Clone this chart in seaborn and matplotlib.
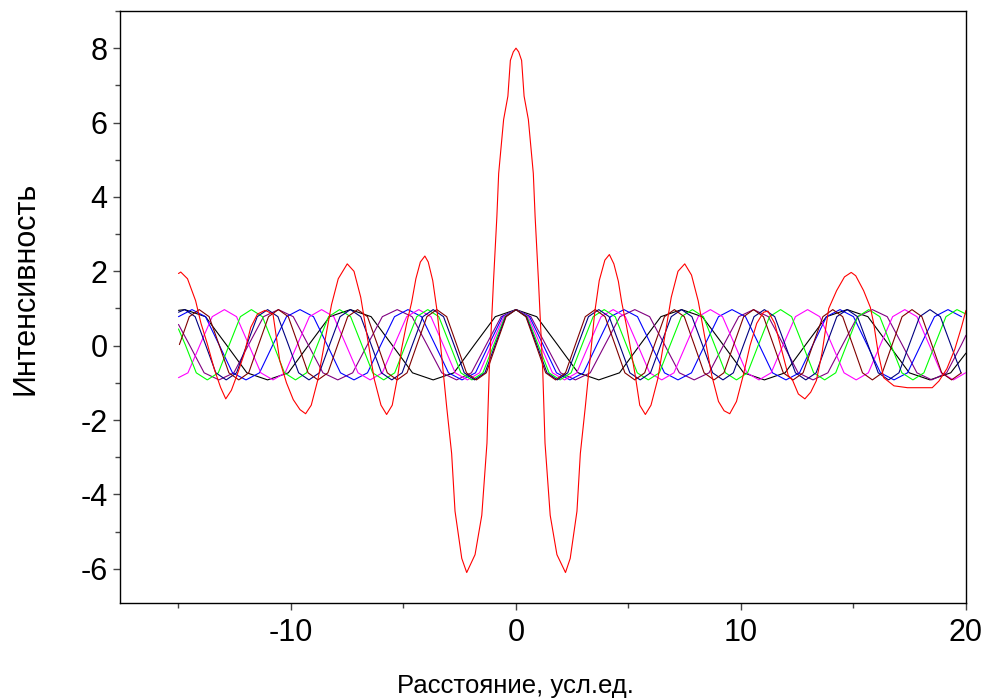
import matplotlib
matplotlib.use("Agg")
import matplotlib.pyplot as plt
import seaborn as sns
from matplotlib.ticker import MultipleLocator

# ---- component curves (x, intensity) ----
brown_x = [-14.96, -14.52, -14.08, -13.64, -13.20, -12.76, -12.32, -11.88,
           -11.44, -11.00, -10.56, -10.12, -9.68, -9.24, -8.80, -8.36,
           -7.92, -7.48, -7.04, -6.60, -6.16, -5.72, -5.28, -4.84,
           -4.40, -3.96, -3.52, -3.08, -2.64, -2.20, -1.76, -1.32,
           -0.88, -0.44, 0.00, 0.44, 0.88, 1.32, 1.76, 2.20,
           2.64, 3.08, 3.52, 3.96, 4.40, 4.84, 5.28, 5.72,
           6.16, 6.60, 7.04, 7.48, 7.92, 8.36, 8.80, 9.24,
           9.68, 10.12, 10.56, 11.00, 11.44, 11.88, 12.32, 12.76,
           13.20, 13.64, 14.08, 14.52, 14.96, 15.40, 15.84, 16.28,
           16.72, 17.16, 17.60, 18.04, 18.48, 18.92, 19.36, 19.80]
brown_y = [0.03, 0.78, 0.97, 0.78, 0.03, -0.73, -0.92, -0.73,
           0.03, 0.78, 0.97, 0.78, 0.03, -0.73, -0.92, -0.73,
           0.03, 0.78, 0.97, 0.78, 0.03, -0.73, -0.92, -0.73,
           0.03, 0.78, 0.97, 0.78, 0.03, -0.73, -0.92, -0.73,
           0.03, 0.78, 0.97, 0.78, 0.03, -0.73, -0.92, -0.73,
           0.03, 0.78, 0.97, 0.78, 0.03, -0.73, -0.92, -0.73,
           0.03, 0.78, 0.97, 0.78, 0.03, -0.73, -0.92, -0.73,
           0.03, 0.78, 0.97, 0.78, 0.03, -0.73, -0.92, -0.73,
           0.03, 0.78, 0.97, 0.78, 0.03, -0.73, -0.92, -0.73,
           0.03, 0.78, 0.97, 0.78, 0.03, -0.73, -0.92, -0.73]

navy_x = [-15.00, -14.72, -14.26, -13.80, -13.34, -12.88, -12.42, -11.96,
          -11.50, -11.04, -10.58, -10.12, -9.66, -9.20, -8.74, -8.28,
          -7.82, -7.36, -6.90, -6.44, -5.98, -5.52, -5.06, -4.60,
          -4.14, -3.68, -3.22, -2.76, -2.30, -1.84, -1.38, -0.92,
          -0.46, 0.00, 0.46, 0.92, 1.38, 1.84, 2.30, 2.76,
          3.22, 3.68, 4.14, 4.60, 5.06, 5.52, 5.98, 6.44,
          6.90, 7.36, 7.82, 8.28, 8.74, 9.20, 9.66, 10.12,
          10.58, 11.04, 11.50, 11.96, 12.42, 12.88, 13.34, 13.80,
          14.26, 14.72, 15.18, 15.64, 16.10, 16.56, 17.02, 17.48,
          17.94, 18.40, 18.86, 19.32, 19.78]
navy_y = [0.90,
          0.97, 0.78, 0.03, -0.73, -0.92, -0.73, 0.03, 0.78,
          0.97, 0.78, 0.03, -0.73, -0.92, -0.73, 0.03, 0.78,
          0.97, 0.78, 0.03, -0.73, -0.92, -0.73, 0.03, 0.78,
          0.97, 0.78, 0.03, -0.73, -0.92, -0.73, 0.03, 0.78,
          0.97, 0.78, 0.03, -0.73, -0.92, -0.73, 0.03, 0.78,
          0.97, 0.78, 0.03, -0.73, -0.92, -0.73, 0.03, 0.78,
          0.97, 0.78, 0.03, -0.73, -0.92, -0.73, 0.03, 0.78,
          0.97, 0.78, 0.03, -0.73, -0.92, -0.73, 0.03, 0.78,
          0.97, 0.78, 0.03, -0.73, -0.92, -0.73, 0.03, 0.78,
          0.97, 0.78, 0.03, -0.73]

green_x = [-15.00, -14.70, -14.21, -13.72, -13.23, -12.74, -12.25, -11.76,
           -11.27, -10.78, -10.29, -9.80, -9.31, -8.82, -8.33, -7.84,
           -7.35, -6.86, -6.37, -5.88, -5.39, -4.90, -4.41, -3.92,
           -3.43, -2.94, -2.45, -1.96, -1.47, -0.98, -0.49, 0.00,
           0.49, 0.98, 1.47, 1.96, 2.45, 2.94, 3.43, 3.92,
           4.41, 4.90, 5.39, 5.88, 6.37, 6.86, 7.35, 7.84,
           8.33, 8.82, 9.31, 9.80, 10.29, 10.78, 11.27, 11.76,
           12.25, 12.74, 13.23, 13.72, 14.21, 14.70, 15.19, 15.68,
           16.17, 16.66, 17.15, 17.64, 18.13, 18.62, 19.11, 19.60, 20.00]
green_y = [0.45,
           0.03, -0.73, -0.92, -0.73, 0.03, 0.78, 0.97, 0.78,
           0.03, -0.73, -0.92, -0.73, 0.03, 0.78, 0.97, 0.78,
           0.03, -0.73, -0.92, -0.73, 0.03, 0.78, 0.97, 0.78,
           0.03, -0.73, -0.92, -0.73, 0.03, 0.78, 0.97, 0.78,
           0.03, -0.73, -0.92, -0.73, 0.03, 0.78, 0.97, 0.78,
           0.03, -0.73, -0.92, -0.73, 0.03, 0.78, 0.97, 0.78,
           0.03, -0.73, -0.92, -0.73, 0.03, 0.78, 0.97, 0.78,
           0.03, -0.73, -0.92, -0.73, 0.03, 0.78, 0.97, 0.78,
           0.03, -0.73, -0.92, -0.73, 0.03, 0.78, 0.97,
           0.85]

magenta_x = [-15.00, -14.58, -14.04, -13.50, -12.96, -12.42, -11.88, -11.34,
             -10.80, -10.26, -9.72, -9.18, -8.64, -8.10, -7.56, -7.02,
             -6.48, -5.94, -5.40, -4.86, -4.32, -3.78, -3.24, -2.70,
             -2.16, -1.62, -1.08, -0.54, 0.00, 0.54, 1.08, 1.62,
             2.16, 2.70, 3.24, 3.78, 4.32, 4.86, 5.40, 5.94,
             6.48, 7.02, 7.56, 8.10, 8.64, 9.18, 9.72, 10.26,
             10.80, 11.34, 11.88, 12.42, 12.96, 13.50, 14.04, 14.58,
             15.12, 15.66, 16.20, 16.74, 17.28, 17.82, 18.36, 18.90,
             19.44, 19.98]
magenta_y = [-0.86,
             -0.73, 0.03, 0.78, 0.97, 0.78, 0.03, -0.73, -0.92,
             -0.73, 0.03, 0.78, 0.97, 0.78, 0.03, -0.73, -0.92,
             -0.73, 0.03, 0.78, 0.97, 0.78, 0.03, -0.73, -0.92,
             -0.73, 0.03, 0.78, 0.97, 0.78, 0.03, -0.73, -0.92,
             -0.73, 0.03, 0.78, 0.97, 0.78, 0.03, -0.73, -0.92,
             -0.73, 0.03, 0.78, 0.97, 0.78, 0.03, -0.73, -0.92,
             -0.73, 0.03, 0.78, 0.97, 0.78, 0.03, -0.73, -0.92,
             -0.73, 0.03, 0.78, 0.97, 0.78, 0.03, -0.73, -0.92,
             -0.73]

blue_x = [-15.0, -14.4, -13.8, -13.2, -12.6, -12.0, -11.4, -10.8,
          -10.2, -9.6, -9.0, -8.4, -7.8, -7.2, -6.6, -6.0,
          -5.4, -4.8, -4.2, -3.6, -3.0, -2.4, -1.8, -1.2,
          -0.6, 0.0, 0.6, 1.2, 1.8, 2.4, 3.0, 3.6,
          4.2, 4.8, 5.4, 6.0, 6.6, 7.2, 7.8, 8.4,
          9.0, 9.6, 10.2, 10.8, 11.4, 12.0, 12.6, 13.2,
          13.8, 14.4, 15.0, 15.6, 16.2, 16.8, 17.4, 18.0,
          18.6, 19.2, 19.8]
blue_y = [0.78, 0.97, 0.78, 0.03, -0.73, -0.92, -0.73, 0.03,
          0.78, 0.97, 0.78, 0.03, -0.73, -0.92, -0.73, 0.03,
          0.78, 0.97, 0.78, 0.03, -0.73, -0.92, -0.73, 0.03,
          0.78, 0.97, 0.78, 0.03, -0.73, -0.92, -0.73, 0.03,
          0.78, 0.97, 0.78, 0.03, -0.73, -0.92, -0.73, 0.03,
          0.78, 0.97, 0.78, 0.03, -0.73, -0.92, -0.73, 0.03,
          0.78, 0.97, 0.78, 0.03, -0.73, -0.92, -0.73, 0.03,
          0.78, 0.97, 0.78]

purple_x = [-15.00, -14.52, -13.86, -13.20, -12.54, -11.88, -11.22, -10.56,
            -9.90, -9.24, -8.58, -7.92, -7.26, -6.60, -5.94, -5.28,
            -4.62, -3.96, -3.30, -2.64, -1.98, -1.32, -0.66, 0.00,
            0.66, 1.32, 1.98, 2.64, 3.30, 3.96, 4.62, 5.28,
            5.94, 6.60, 7.26, 7.92, 8.58, 9.24, 9.90, 10.56,
            11.22, 11.88, 12.54, 13.20, 13.86, 14.52, 15.18, 15.84,
            16.50, 17.16, 17.82, 18.48, 19.14, 19.80, 20.00]
purple_y = [0.57,
            0.03, -0.73, -0.92, -0.73, 0.03, 0.78, 0.97, 0.78,
            0.03, -0.73, -0.92, -0.73, 0.03, 0.78, 0.97, 0.78,
            0.03, -0.73, -0.92, -0.73, 0.03, 0.78, 0.97, 0.78,
            0.03, -0.73, -0.92, -0.73, 0.03, 0.78, 0.97, 0.78,
            0.03, -0.73, -0.92, -0.73, 0.03, 0.78, 0.97, 0.78,
            0.03, -0.73, -0.92, -0.73, 0.03, 0.78, 0.97, 0.78,
            0.03, -0.73, -0.92, -0.73, 0.03,
            0.28]

black_x = [-15.00, -14.72, -13.80, -12.88, -11.96, -11.04, -10.12, -9.20,
           -8.28, -7.36, -6.44, -5.52, -4.60, -3.68, -2.76, -1.84,
           -0.92, 0.00, 0.92, 1.84, 2.76, 3.68, 4.60, 5.52,
           6.44, 7.36, 8.28, 9.20, 10.12, 11.04, 11.96, 12.88,
           13.80, 14.72, 15.64, 16.56, 17.48, 18.40, 19.32, 20.00]
black_y = [0.95,
           0.97, 0.78, 0.03, -0.73, -0.92, -0.73, 0.03, 0.78,
           0.97, 0.78, 0.03, -0.73, -0.92, -0.73, 0.03, 0.78,
           0.97, 0.78, 0.03, -0.73, -0.92, -0.73, 0.03, 0.78,
           0.97, 0.78, 0.03, -0.73, -0.92, -0.73, 0.03, 0.78,
           0.97, 0.78, 0.03, -0.73, -0.92, -0.73,
           -0.20]

# ---- resulting (summed) profile ----
red_points = [
    (-15.0, 1.94), (-14.9, 1.98), (-14.6, 1.80), (-14.46, 1.57), (-14.24, 1.21),
    (-14.0, 0.60), (-13.72, 0.05), (-13.4, -0.65), (-13.13, -1.12), (-12.9, -1.43),
    (-12.65, -1.20), (-12.38, -0.76), (-12.08, -0.22), (-11.79, 0.49), (-11.49, 0.85),
    (-11.15, 0.95), (-10.8, 0.85), (-10.5, -0.40), (-10.2, -1.00), (-9.9, -1.45),
    (-9.6, -1.72), (-9.35, -1.83), (-9.1, -1.60), (-8.8, -0.90), (-8.5, 0.10),
    (-8.2, 1.10), (-7.9, 1.80), (-7.5, 2.20), (-7.2, 2.00), (-6.9, 1.30),
    (-6.6, 0.20), (-6.3, -0.90), (-6.0, -1.60), (-5.75, -1.85), (-5.5, -1.60),
    (-5.25, -0.80), (-5.09, -0.10), (-4.87, 0.57), (-4.64, 1.16), (-4.45, 1.80),
    (-4.25, 2.25), (-4.05, 2.41), (-3.9, 2.25), (-3.7, 1.75), (-3.5, 0.90),
    (-3.3, -0.30), (-3.08, -1.65), (-2.86, -2.90), (-2.71, -4.45), (-2.41, -5.72),
    (-2.19, -6.10), (-1.82, -5.62), (-1.52, -4.56), (-1.29, -2.62), (-1.19, -0.69),
    (-1.0, 1.73), (-0.85, 3.47), (-0.77, 4.63), (-0.55, 6.08), (-0.36, 6.71),
    (-0.25, 7.67), (-0.12, 7.90), (0.0, 8.00), (0.12, 7.90), (0.25, 7.67),
    (0.36, 6.71), (0.55, 6.08), (0.77, 4.63), (0.85, 3.47), (1.0, 1.73),
    (1.19, -0.69), (1.29, -2.62), (1.52, -4.56), (1.82, -5.62), (2.2, -6.10),
    (2.41, -5.72), (2.71, -4.45), (2.86, -2.90), (3.08, -1.65), (3.3, -0.30),
    (3.5, 0.90), (3.7, 1.75), (3.95, 2.30), (4.15, 2.45), (4.35, 2.20),
    (4.55, 1.73), (4.7, 1.16), (4.9, 0.57), (5.1, -0.10), (5.3, -0.80),
    (5.5, -1.60), (5.75, -1.85), (6.0, -1.60), (6.3, -0.90), (6.6, 0.20),
    (6.9, 1.30), (7.2, 2.00), (7.5, 2.20), (7.8, 1.90), (8.1, 1.20),
    (8.4, 0.20), (8.7, -0.80), (9.0, -1.50), (9.25, -1.75), (9.5, -1.83),
    (9.8, -1.50), (10.1, -0.80), (10.4, 0.00), (10.7, 0.60), (11.0, 0.90),
    (11.2, 0.93), (11.5, 0.60), (11.8, -0.10), (12.1, -0.80), (12.3, -0.94),
    (12.55, -1.30), (12.84, -1.43), (13.1, -1.25), (13.35, -0.94), (13.6, -0.20),
    (13.9, 1.00), (14.25, 1.48), (14.6, 1.85), (14.9, 1.97), (15.1, 1.88),
    (15.45, 1.48), (15.75, 1.03), (15.9, 0.59), (16.1, -0.20), (16.34, -0.86),
    (16.8, -1.08), (17.4, -1.13), (18.5, -1.13), (18.8, -0.95), (19.15, -0.62),
    (19.5, -0.10), (19.8, 0.50), (20.0, 0.95),
]
red_x = [p[0] for p in red_points]
red_y = [p[1] for p in red_points]

components = [
    (black_x, black_y, "#000000"),
    (purple_x, purple_y, "#800080"),
    (blue_x, blue_y, "#0000FF"),
    (magenta_x, magenta_y, "#FF00FF"),
    (green_x, green_y, "#00FF00"),
    (navy_x, navy_y, "#000080"),
    (brown_x, brown_y, "#800000"),
]

sns.set_theme(style="ticks")
plt.rcParams["font.family"] = ["Liberation Sans", "DejaVu Sans"]
plt.rcParams["axes.unicode_minus"] = False

fig = plt.figure(figsize=(9.86, 6.99), dpi=100)
ax = fig.add_axes([0.1217, 0.1373, 0.858, 0.847])

for xs, ys, col in components:
    sns.lineplot(x=xs, y=ys, color=col, linewidth=0.8, sort=False,
                 estimator=None, ax=ax)
sns.lineplot(x=red_x, y=red_y, color="#FF0000", linewidth=0.8, sort=False,
             estimator=None, ax=ax)

ax.set_xlim(-17.6, 20)
ax.set_ylim(-6.92, 9.0)
ax.xaxis.set_major_locator(MultipleLocator(10))
ax.xaxis.set_minor_locator(MultipleLocator(5))
ax.yaxis.set_major_locator(MultipleLocator(2))
ax.yaxis.set_minor_locator(MultipleLocator(1))

for side in ["left", "right", "top", "bottom"]:
    ax.spines[side].set_visible(True)
    ax.spines[side].set_color("black")
    ax.spines[side].set_linewidth(1.0)

ax.tick_params(axis="both", which="major", direction="out", length=5,
               width=1.0, color="#444444", labelsize=22,
               labelcolor="black")
ax.tick_params(axis="y", which="major", pad=4)
ax.tick_params(axis="x", which="major", pad=6)
ax.tick_params(axis="both", which="minor", direction="out", length=3.5,
               width=1.0, color="#444444")
ax.tick_params(top=False, right=False, which="both")

ax.set_xlabel("Расстояние, усл.ед.", fontsize=18.5, color="black")
ax.xaxis.set_label_coords(0.467, -0.12)
ax.set_ylabel("Интенсивность", fontsize=22, color="black")
ax.yaxis.set_label_coords(-0.094, 0.532)

fig.savefig("out.png", dpi=100)
